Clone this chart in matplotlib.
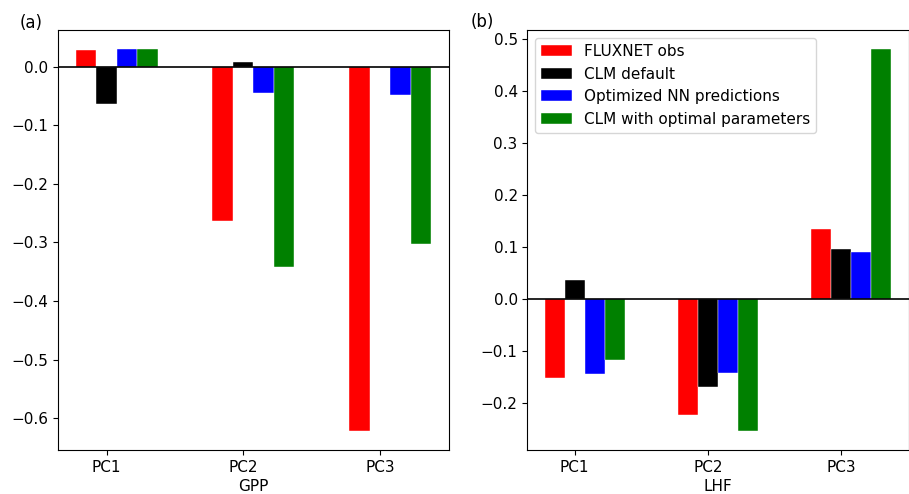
import numpy as np
import matplotlib
matplotlib.use("Agg")
import matplotlib.pyplot as plt

## data
pcs = ["PC1", "PC2", "PC3"]
series = ["FLUXNET obs", "CLM default", "Optimized NN predictions",
          "CLM with optimal parameters"]
colors = ["red", "black", "blue", "green"]

gpp_obs = [0.029, -0.264, -0.622]
gpp_default = [-0.064, 0.008, 0.0]
gpp_nn = [0.030, -0.044, -0.048]
gpp_opt = [0.030, -0.342, -0.302]

lhf_obs = [-0.153, -0.224, 0.135]
lhf_default = [0.037, -0.170, 0.096]
lhf_nn = [-0.145, -0.143, 0.091]
lhf_opt = [-0.118, -0.254, 0.481]

plt.rcParams["font.size"] = 11

fig = plt.figure(figsize=(9.09, 4.94), dpi=100)
ax1 = fig.add_axes([0.0638, 0.089, 0.430, 0.850])
ax2 = fig.add_axes([0.5802, 0.089, 0.4193, 0.850])

x = np.arange(len(pcs))
w = 0.15


def draw(ax, vals, xlabel):
    for i, (v, c, lab) in enumerate(zip(vals, colors, series)):
        ax.bar(x + (i - 1) * w, v, w, color=c, label=lab,
               edgecolor="white", linewidth=0.3)
    ax.axhline(0, color="black", linewidth=1.2)
    ax.set_xticks(x)
    ax.set_xticklabels(pcs)
    ax.set_xlabel(xlabel, labelpad=3)


draw(ax1, [gpp_obs, gpp_default, gpp_nn, gpp_opt], "GPP")
draw(ax2, [lhf_obs, lhf_default, lhf_nn, lhf_opt], "LHF")

ax1.set_yticks(np.arange(-0.6, 0.01, 0.1))
ax2.set_yticks(np.arange(-0.2, 0.51, 0.1))
ax2.legend(loc="upper left")

fig.text(0.034, 0.954, "(a)", ha="center", va="center", fontsize=12)
fig.text(0.531, 0.956, "(b)", ha="center", va="center", fontsize=12)

fig.savefig("out.png", dpi=100)
